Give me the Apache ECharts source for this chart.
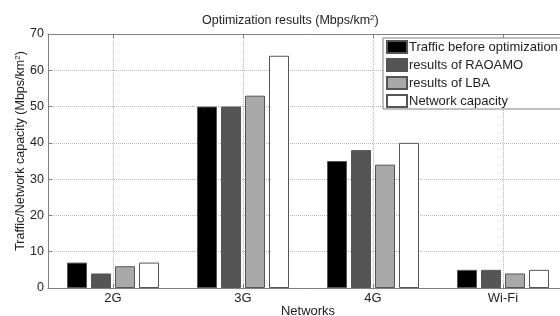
<!DOCTYPE html>
<html>
<head>
<meta charset="utf-8">
<script src="https://cdn.jsdelivr.net/npm/echarts@6/dist/echarts.min.js"></script>
<style>
  html, body { margin: 0; padding: 0; background: #fff; }
  #chart { width: 560px; height: 316px; }
</style>
</head>
<body>
<div id="chart"></div>
<script>
const categories = ['2G', '3G', '4G', 'Wi-Fi']
const trafficBefore = [7, 50, 35, 5]
const raoamo = [4, 50, 38, 5]
const lba = [6, 53, 34, 4]
const capacity = [7, 64, 40, 5]
const yTicks = [0, 10, 20, 30, 40, 50, 60, 70]

const font = 'Liberation Sans, Arial, sans-serif'
const axisColor = '#808080'
const gridColor = '#b8b8b8'
const supRich = {
  sup: { fontSize: 8, verticalAlign: 'top', lineHeight: 8, color: '#222', fontFamily: font }
}

const chart = echarts.init(document.getElementById('chart'))

function barSeries(name, data, color) {
  return {
    name: name,
    type: 'bar',
    data: data,
    barWidth: 20,
    barGap: '20%',
    itemStyle: { color: color, borderColor: '#555', borderWidth: 1 }
  }
}

chart.setOption({
  animation: false,
  textStyle: { fontFamily: font },
  title: {
    text: 'Optimization results (Mbps/km{sup|2})',
    left: 197,
    top: 9,
    textStyle: {
      fontSize: 12.5,
      fontWeight: 'normal',
      color: '#222',
      fontFamily: font,
      rich: supRich
    }
  },
  // outerBoundsMode none: keep the grid where it is, the right edge is cropped
  grid: { left: 48, top: 34, width: 520, height: 254, containLabel: false, outerBoundsMode: 'none' },
  legend: {
    orient: 'vertical',
    left: 383,
    top: 38,
    padding: [2, 40, 1, 3],
    itemWidth: 20,
    itemHeight: 12,
    itemGap: 4,
    icon: 'rect',
    backgroundColor: '#fff',
    borderColor: axisColor,
    borderWidth: 1,
    borderRadius: 0,
    textStyle: { fontSize: 13, lineHeight: 14, color: '#222', fontFamily: font, padding: [0, 0, 0, -3] }
  },
  xAxis: [
    {
      type: 'category',
      data: categories,
      name: 'Networks',
      nameLocation: 'middle',
      nameGap: 17,
      nameMoveOverlap: false,
      nameTextStyle: { fontSize: 13, color: '#222' },
      axisLine: { lineStyle: { color: axisColor } },
      axisTick: { show: true, inside: true, alignWithLabel: true, length: 4, lineStyle: { color: axisColor } },
      axisLabel: { fontSize: 13, color: '#222', margin: 4 },
      splitLine: { show: true, alignWithLabel: true, lineStyle: { type: 'dotted', color: gridColor } }
    },
    {
      type: 'category',
      data: categories,
      position: 'top',
      axisLine: { lineStyle: { color: axisColor } },
      axisTick: { show: true, inside: true, alignWithLabel: true, length: 4, lineStyle: { color: axisColor } },
      axisLabel: { show: false },
      splitLine: { show: false }
    }
  ],
  yAxis: {
    type: 'value',
    min: yTicks[0],
    max: yTicks[yTicks.length - 1],
    interval: 10,
    name: 'Traffic/Network capacity (Mbps/km{sup|2})',
    nameLocation: 'middle',
    nameGap: 21,
    nameMoveOverlap: false,
    nameTextStyle: { fontSize: 12.5, color: '#222', rich: supRich, padding: [0, 0, 0, 20] },
    axisLine: { show: true, lineStyle: { color: axisColor } },
    axisTick: { show: true, inside: true, length: 4, lineStyle: { color: axisColor } },
    axisLabel: { fontSize: 12.5, color: '#222', margin: 4 },
    splitLine: { show: true, lineStyle: { type: 'dotted', color: gridColor } }
  },
  series: [
    barSeries('Traffic before optimization', trafficBefore, '#000000'),
    barSeries('results of RAOAMO', raoamo, '#555555'),
    barSeries('results of LBA', lba, '#a9a9a9'),
    barSeries('Network capacity', capacity, '#ffffff')
  ]
})
</script>
</body>
</html>
